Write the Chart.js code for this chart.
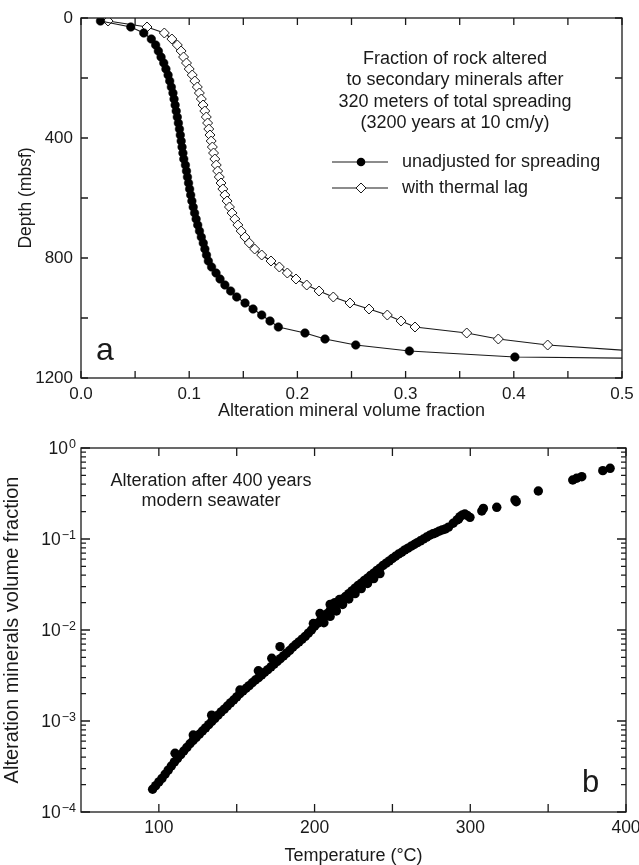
<!DOCTYPE html>
<html>
<head>
<meta charset="utf-8">
<script src="https://cdn.jsdelivr.net/npm/chart.js@4.4.0/dist/chart.umd.min.js"></script>
<style>
  body { margin: 0; background: #fff; }
  #wrap { position: relative; width: 639px; height: 865px; }
  canvas { position: absolute; left: 0; }
</style>
</head>
<body>
<div id="wrap">
  <canvas id="chartA" width="639" height="425" style="top:0"></canvas>
  <canvas id="chartB" width="639" height="440" style="top:425px"></canvas>
</div>
<script>
// ---- panel a : depth profiles ----
let depthUnadj = [10, 30, 50, 70, 90, 110, 130, 150, 170, 190, 210, 230, 250, 270, 290, 310, 330, 350, 370, 390,
  410, 430, 450, 470, 490, 510, 530, 550, 570, 590, 610, 630, 650, 670, 690, 710, 730, 750, 770, 790,
  810, 830, 850, 870, 890, 910, 930, 950, 970, 990, 1010, 1030, 1050, 1070, 1090, 1110, 1130, 1134];
let fracUnadj = [0.018, 0.046, 0.058, 0.065, 0.069, 0.0715, 0.074, 0.0765, 0.0785, 0.0805, 0.082, 0.0835, 0.085, 0.086, 0.087, 0.088, 0.089, 0.090, 0.091, 0.0918,
  0.0926, 0.0934, 0.0942, 0.095, 0.0965, 0.0975, 0.0984, 0.0994, 0.1004, 0.1014, 0.1025, 0.1037, 0.105, 0.1064, 0.1079, 0.1095, 0.1112, 0.113, 0.1145, 0.116,
  0.1177, 0.1207, 0.1248, 0.1285, 0.133, 0.1383, 0.1439, 0.1516, 0.159, 0.167, 0.1747, 0.1824, 0.207, 0.2255, 0.2539, 0.3035, 0.401, 0.5];

let depthLag = [10, 30, 50, 70, 90, 110, 130, 150, 170, 190, 210, 230, 250, 270, 290, 310, 330, 350, 370, 390,
  410, 430, 450, 470, 490, 510, 530, 550, 570, 590, 610, 630, 650, 670, 690, 710, 730, 750, 770, 790,
  810, 830, 850, 870, 890, 910, 930, 950, 970, 990, 1010, 1030, 1050, 1070, 1090, 1107];
let fracLag = [0.025, 0.061, 0.077, 0.084, 0.089, 0.0925, 0.0948, 0.0975, 0.1, 0.1028, 0.1052, 0.1075, 0.1094, 0.1112, 0.1128, 0.1144, 0.1158, 0.117, 0.1181, 0.1192,
  0.1203, 0.1214, 0.1225, 0.1237, 0.125, 0.1263, 0.1278, 0.1294, 0.1311, 0.133, 0.135, 0.1372, 0.1396, 0.1422, 0.145, 0.148, 0.1515, 0.1555, 0.1605, 0.167,
  0.1756, 0.1833, 0.1907, 0.1987, 0.2086, 0.22, 0.2332, 0.2486, 0.2662, 0.2831, 0.2958, 0.3087, 0.3565, 0.3857, 0.4313, 0.5];

let xTicksA = [0, 0.1, 0.2, 0.3, 0.4, 0.5];
let xMinorA = [0.05, 0.15, 0.25, 0.35, 0.45];
let yTicksA = [0, 400, 800, 1200];
let yMinorA = [200, 600, 1000];
let seriesNamesA = ['unadjusted for spreading', 'with thermal lag'];
let noteA = ['Fraction of rock altered', 'to secondary minerals after', '320 meters of total spreading', '(3200 years at 10 cm/y)'];

// ---- panel b : alteration vs temperature ----
let tempB = [96, 98, 100, 102, 104, 106, 108, 110, 112, 114, 116, 118, 120, 122, 124, 126, 128, 130, 132, 134,
  136, 138, 140, 142, 144, 146, 148, 150, 152, 154, 156, 158, 160, 162, 164, 166, 168, 170, 172, 174,
  176, 178, 180, 182, 184, 186, 188, 190, 192, 194, 196, 198, 200, 202, 204, 206, 208, 210, 212, 214,
  216, 218, 220, 222, 224, 226, 228, 230, 232, 234, 236, 238, 240, 242, 244, 246, 248, 250, 252, 254,
  256, 258, 260, 262, 264, 266, 268, 270, 272, 274, 276, 278, 280, 282, 284,
  286, 289, 291.5, 292.5, 293.4, 295, 296.5, 298, 299.8, 307.4, 308.4, 317, 328.7, 329.5, 343.7, 365.8, 368.3, 371.6, 385.1, 389.8,
  110.4, 122.1, 133.9, 152.1, 163.9, 172.5, 177.8, 199.2, 203.5,
  206, 210, 214, 218, 222, 226, 230, 234, 238, 242, 210, 213, 216];
let fracB = [1.78e-4, 1.95e-4, 2.14e-4, 2.34e-4, 2.60e-4, 2.88e-4, 3.20e-4, 3.55e-4, 3.89e-4, 4.27e-4, 4.68e-4, 5.13e-4, 5.62e-4, 6.10e-4, 6.61e-4, 7.16e-4, 7.76e-4, 8.41e-4, 9.12e-4, 9.89e-4,
  1.07e-3, 1.16e-3, 1.26e-3, 1.35e-3, 1.46e-3, 1.58e-3, 1.70e-3, 1.84e-3, 2.00e-3, 2.14e-3, 2.29e-3, 2.45e-3, 2.63e-3, 2.82e-3, 2.99e-3, 3.20e-3, 3.43e-3, 3.67e-3, 3.94e-3, 4.22e-3,
  4.52e-3, 4.84e-3, 5.19e-3, 5.56e-3, 5.96e-3, 6.46e-3, 6.92e-3, 7.41e-3, 7.94e-3, 8.51e-3, 9.23e-3, 0.0100, 0.0110, 0.0119, 0.0129, 0.0140, 0.0151, 0.0164, 0.0178, 0.0191,
  0.0204, 0.0219, 0.0234, 0.0251, 0.0269, 0.0288, 0.0309, 0.0327, 0.0351, 0.0372, 0.0398, 0.0422, 0.0452, 0.0479, 0.0513, 0.0543, 0.0575, 0.0610, 0.0646, 0.0684,
  0.0716, 0.0759, 0.0794, 0.0832, 0.0871, 0.0912, 0.0955, 0.100, 0.105, 0.110, 0.114, 0.117, 0.122, 0.126, 0.129,
  0.135, 0.149, 0.162, 0.166, 0.176, 0.184, 0.188, 0.182, 0.173, 0.203, 0.217, 0.223, 0.269, 0.257, 0.337, 0.445, 0.465, 0.484, 0.564, 0.598,
  4.42e-4, 7.01e-4, 1.16e-3, 2.19e-3, 3.57e-3, 4.89e-3, 6.56e-3, 0.0118, 0.0152,
  0.0120, 0.0141, 0.0162, 0.0191, 0.0219, 0.0251, 0.0285, 0.0324, 0.0367, 0.0417, 0.0191, 0.0200, 0.0216];

let xTicksB = [100, 200, 300, 400];
let xMinorB = [150, 250, 350];
let yTicksB = [1e-4, 1e-3, 1e-2, 1e-1, 1];
let yMinorB = [];
yTicksB.slice(0, 4).forEach(function(d) {
  for (let k = 2; k <= 9; k++) yMinorB.push(d * k);
});
let noteB = ['Alteration after 400 years', 'modern seawater'];

const FONT = "'Liberation Sans', Arial, Helvetica, sans-serif";
const INK = '#1a1a1a';

// inward tick marks and a closed frame, placed with the chart's scales
const frameTicks = {
  id: 'frameTicks',
  afterDatasetsDraw(chart, args, opts) {
    const ctx = chart.ctx;
    const a = chart.chartArea;
    const sx = chart.scales.x, sy = chart.scales.y;
    ctx.save();
    ctx.strokeStyle = INK;
    ctx.lineWidth = 1.3;
    ctx.strokeRect(a.left, a.top, a.right - a.left, a.bottom - a.top);
    ctx.beginPath();
    opts.x.forEach(function(set) {
      set[0].forEach(function(v) {
        let p = sx.getPixelForValue(v);
        ctx.moveTo(p, a.bottom); ctx.lineTo(p, a.bottom - set[1]);
        ctx.moveTo(p, a.top); ctx.lineTo(p, a.top + set[1]);
      });
    });
    opts.y.forEach(function(set) {
      set[0].forEach(function(v) {
        let p = sy.getPixelForValue(v);
        ctx.moveTo(a.left, p); ctx.lineTo(a.left + set[1], p);
        ctx.moveTo(a.right, p); ctx.lineTo(a.right - set[1], p);
      });
    });
    ctx.stroke();
    ctx.restore();
  }
};

// power-of-ten labels for the log axis: "10" with a raised exponent
const powerLabels = {
  id: 'powerLabels',
  afterDraw(chart) {
    const ctx = chart.ctx;
    const sy = chart.scales.y;
    const right = chart.chartArea.left - 5;
    ctx.save();
    ctx.fillStyle = INK;
    ctx.textAlign = 'left';
    ctx.textBaseline = 'alphabetic';
    sy.ticks.forEach(function(t) {
      let p = sy.getPixelForValue(t.value);
      let e = Math.round(Math.log10(t.value));
      let exp = e === 0 ? '0' : '\u2212' + Math.abs(e);
      ctx.font = '17.5px ' + FONT;
      let wb = ctx.measureText('10').width;
      ctx.font = '12.5px ' + FONT;
      let we = ctx.measureText(exp).width;
      let x0 = right - wb - we - 1;
      ctx.font = '17.5px ' + FONT;
      ctx.fillText('10', x0, p + 6.3);
      ctx.font = '12.5px ' + FONT;
      ctx.fillText(exp, x0 + wb + 1, p - 0.5);
    });
    ctx.restore();
  }
};

function fixTicks(list) {
  return function(scale) {
    scale.ticks = list.map(function(v) { return {value: v}; });
  };
}

// ---------- chart a ----------
let lastU = depthUnadj.length - 1;
let lastL = depthLag.length - 1;

let chartA = new Chart(document.getElementById('chartA'), {
  type: 'scatter',
  data: {
    datasets: [{
      label: seriesNamesA[0],
      data: depthUnadj.map(function(d, i) { return {x: fracUnadj[i], y: d}; }),
      showLine: true,
      borderColor: INK,
      borderWidth: 1.2,
      pointStyle: 'circle',
      pointRadius: function(c) { return c.dataIndex === lastU ? 0 : 4.3; },
      pointBackgroundColor: '#000',
      pointBorderColor: '#000',
      pointBorderWidth: 0.5
    }, {
      label: seriesNamesA[1],
      data: depthLag.map(function(d, i) { return {x: fracLag[i], y: d}; }),
      showLine: true,
      borderColor: INK,
      borderWidth: 1.2,
      pointStyle: 'rectRot',
      pointRadius: function(c) { return c.dataIndex === lastL ? 0 : 5; },
      pointBackgroundColor: '#fff',
      pointBorderColor: INK,
      pointBorderWidth: 1
    }]
  },
  options: {
    responsive: false,
    animation: false,
    events: [],
    layout: { padding: { top: 18, right: 17, left: 0, bottom: 0 } },
    plugins: {
      legend: { display: false },
      tooltip: { enabled: false },
      frameTicks: { x: [[xMinorA, 7], [xTicksA, 7]], y: [[yMinorA, 7], [yTicksA, 7]] }
    },
    scales: {
      x: {
        type: 'linear', min: 0, max: 0.5,
        grid: { display: false, drawTicks: false },
        border: { display: false },
        afterBuildTicks: fixTicks(xTicksA),
        afterFit: function(s) { s.height = 47; s.paddingLeft = 0; s.paddingRight = 0; },
        ticks: { color: INK, padding: 6, font: { family: FONT, size: 17 }, maxRotation: 0,
          callback: function(v) { return Number(v).toFixed(1); } },
        title: { display: true, text: 'Alteration mineral volume fraction', color: INK,
          font: { family: FONT, size: 18, lineHeight: 1 }, padding: { top: 0, bottom: 5 } }
      },
      y: {
        type: 'linear', min: 0, max: 1200, reverse: true,
        grid: { display: false, drawTicks: false },
        border: { display: false },
        afterBuildTicks: fixTicks(yTicksA),
        afterFit: function(s) { s.width = 81; s.paddingTop = 0; s.paddingBottom = 0; },
        ticks: { color: INK, padding: 8, font: { family: FONT, size: 17 },
          callback: function(v) { return String(v); } },
        title: { display: true, text: 'Depth (mbsf)', color: INK,
          font: { family: FONT, size: 17.5, lineHeight: 1 }, padding: { top: 17, bottom: 0 } }
      }
    }
  },
  plugins: [frameTicks, {
    id: 'notesA',
    afterDraw(chart) {
      const ctx = chart.ctx;
      ctx.save();
      ctx.fillStyle = INK;
      ctx.font = '18px ' + FONT;
      ctx.textAlign = 'center';
      ctx.textBaseline = 'middle';
      noteA.forEach(function(t, i) { ctx.fillText(t, 455, 59 + i * 21.5); });

      // legend rows: line with the series marker in the middle
      [162, 188].forEach(function(y, i) {
        let ds = chart.data.datasets[i];
        ctx.strokeStyle = INK;
        ctx.lineWidth = 1.2;
        ctx.beginPath();
        ctx.moveTo(332, y); ctx.lineTo(388, y);
        ctx.stroke();
        ctx.beginPath();
        if (ds.pointStyle === 'circle') {
          ctx.arc(361, y, 4.3, 0, Math.PI * 2);
          ctx.fillStyle = '#000';
          ctx.fill();
        } else {
          ctx.moveTo(361 - 5, y); ctx.lineTo(361, y - 5);
          ctx.lineTo(361 + 5, y); ctx.lineTo(361, y + 5);
          ctx.closePath();
          ctx.fillStyle = '#fff';
          ctx.fill();
          ctx.lineWidth = 1;
          ctx.stroke();
        }
        ctx.fillStyle = INK;
        ctx.textAlign = 'left';
        ctx.fillText(ds.label, 402, y);
      });

      ctx.font = '32px ' + FONT;
      ctx.textAlign = 'left';
      ctx.textBaseline = 'alphabetic';
      ctx.fillText('a', 96, 360);
      ctx.restore();
    }
  }]
});

// ---------- chart b ----------
let chartB = new Chart(document.getElementById('chartB'), {
  type: 'scatter',
  data: {
    datasets: [{
      label: 'alteration',
      data: tempB.map(function(t, i) { return {x: t, y: fracB[i]}; }),
      pointStyle: 'circle',
      pointRadius: 4.7,
      pointBackgroundColor: '#000',
      pointBorderWidth: 0
    }]
  },
  options: {
    responsive: false,
    animation: false,
    events: [],
    layout: { padding: { top: 23, right: 13, left: 0, bottom: 0 } },
    plugins: {
      legend: { display: false },
      tooltip: { enabled: false },
      frameTicks: { x: [[xMinorB, 8], [xTicksB, 8]], y: [[yMinorB, 5], [yTicksB, 9]] }
    },
    scales: {
      x: {
        type: 'linear', min: 50, max: 400,
        grid: { display: false, drawTicks: false },
        border: { display: false },
        afterBuildTicks: fixTicks(xTicksB),
        afterFit: function(s) { s.height = 53; s.paddingLeft = 0; s.paddingRight = 0; },
        ticks: { color: INK, padding: 5.5, font: { family: FONT, size: 17.5 }, maxRotation: 0,
          callback: function(v) { return String(v); } },
        title: { display: true, text: 'Temperature (\u00B0C)', color: INK,
          font: { family: FONT, size: 18, lineHeight: 1 }, padding: { top: 0, bottom: 0 } }
      },
      y: {
        type: 'logarithmic', min: 1e-4, max: 1,
        grid: { display: false, drawTicks: false },
        border: { display: false },
        afterBuildTicks: fixTicks(yTicksB),
        afterFit: function(s) { s.width = 81; s.paddingTop = 0; s.paddingBottom = 0; },
        ticks: { display: false },
        title: { display: true, text: 'Alteration minerals volume fraction', color: INK,
          font: { family: FONT, size: 20, lineHeight: 1 }, padding: { top: 2.5, bottom: 0 } }
      }
    }
  },
  plugins: [frameTicks, powerLabels, {
    id: 'notesB',
    afterDraw(chart) {
      const ctx = chart.ctx;
      ctx.save();
      ctx.fillStyle = INK;
      ctx.font = '18px ' + FONT;
      ctx.textAlign = 'center';
      ctx.textBaseline = 'middle';
      noteB.forEach(function(t, i) { ctx.fillText(t, 211, 56 + i * 20); });
      ctx.font = '31px ' + FONT;
      ctx.textAlign = 'left';
      ctx.textBaseline = 'alphabetic';
      ctx.fillText('b', 582, 367);
      ctx.restore();
    }
  }]
});
</script>
</body>
</html>
